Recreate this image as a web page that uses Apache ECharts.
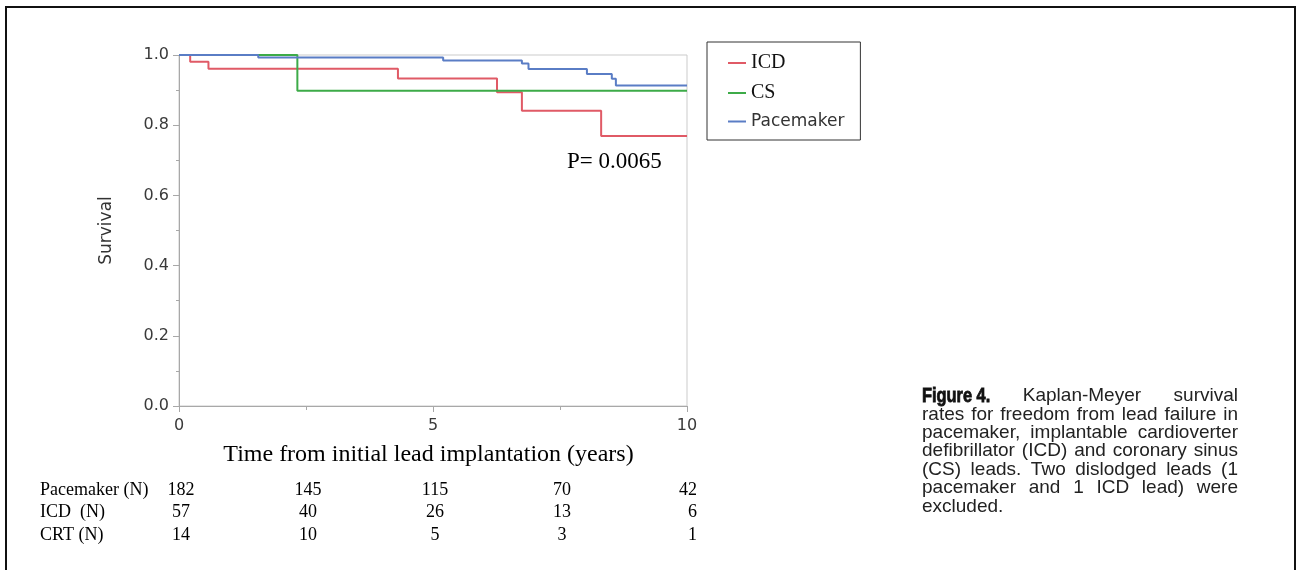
<!DOCTYPE html>
<html>
<head>
<meta charset="utf-8">
<title>Kaplan-Meyer lead survival</title>
<script src="https://cdn.jsdelivr.net/npm/echarts@6/dist/echarts.min.js"></script>
<style>
html, body { margin: 0; padding: 0; background: #fff; }
#main { width: 1297px; height: 570px; }
</style>
</head>
<body>
<div id="main"></div>
<script>
// survival curves (time in years, survival fraction)
var icdTime = [0, 0.22, 0.58, 4.31, 6.26, 6.75, 8.31, 10];
var icdSurv = [1, 0.981, 0.961, 0.933, 0.894, 0.841, 0.769, 0.769];
var csTime = [0, 2.33, 10];
var csSurv = [1, 0.898, 0.898];
var pmTime = [0, 1.56, 5.2, 6.75, 6.88, 8.03, 8.52, 8.6, 10];
var pmSurv = [1, 0.993, 0.984, 0.976, 0.96, 0.946, 0.932, 0.913, 0.913];

// numbers at risk
var riskTimes = [0, 2.5, 5, 7.5, 10];
var riskLabels = ['Pacemaker (N)', 'ICD  (N)', 'CRT (N)'];
var riskPacemaker = [182, 145, 115, 70, 42];
var riskIcd = [57, 40, 26, 13, 6];
var riskCrt = [14, 10, 5, 3, 1];

var seriesNames = ['ICD', 'CS', 'Pacemaker'];
var pValue = 'P= 0.0065';

var captionBold = 'Figure 4.';
var captionLines = [
  'Kaplan-Meyer survival',
  'rates for freedom from lead failure in',
  'pacemaker, implantable cardioverter',
  'defibrillator (ICD) and coronary sinus',
  '(CS) leads. Two dislodged leads (1',
  'pacemaker and 1 ICD lead) were',
  'excluded.'
];

var colors = {ICD: '#e05a66', CS: '#3dab48', Pacemaker: '#5a7dc5'};
var sansFont = 'DejaVu Sans';
var serifFont = 'Liberation Serif';

function toPairs(xs, ys) {
  return xs.map(function (x, i) { return [x, ys[i]]; });
}

function kmSeries(name, xs, ys) {
  return {
    name: name,
    type: 'line',
    step: 'end',
    symbol: 'none',
    color: colors[name],
    lineStyle: {width: 2, color: colors[name]},
    data: toPairs(xs, ys)
  };
}

var chart = echarts.init(document.getElementById('main'));

var axisGrey = '#a8a8a8';
var option = {
  backgroundColor: '#fff',
  animation: false,
  grid: {left: 179, top: 55, right: 610, bottom: 164, show: true, borderColor: '#cbcbcb', borderWidth: 1},
  legend: {
    orient: 'vertical',
    left: 707,
    top: 42,
    data: seriesNames,
    icon: 'rect',
    itemWidth: 18,
    itemHeight: 2,
    itemGap: 10,
    padding: [11, 16, 10, 21],
    borderColor: '#333',
    borderWidth: 1,
    backgroundColor: '#fff',
    formatter: function (name) {
      return name === 'Pacemaker' ? '{sans|' + name + '}' : '{serif|' + name + '}';
    },
    textStyle: {
      rich: {
        serif: {fontFamily: serifFont, fontSize: 20, lineHeight: 20, color: '#111'},
        sans: {fontFamily: sansFont, fontSize: 17, lineHeight: 20, color: '#333'}
      }
    }
  },
  xAxis: {
    type: 'value',
    min: 0,
    max: 10,
    interval: 5,
    name: 'Time from initial lead implantation (years)',
    nameLocation: 'middle',
    nameGap: 37,
    nameTextStyle: {fontFamily: serifFont, fontSize: 24, color: '#000', padding: [0, 9, 0, 0]},
    axisLine: {lineStyle: {color: axisGrey}},
    axisTick: {length: 6, lineStyle: {color: axisGrey}},
    minorTick: {show: true, splitNumber: 2, length: 4, lineStyle: {color: axisGrey}},
    splitLine: {show: false},
    axisLabel: {margin: 12, fontFamily: sansFont, fontSize: 16, color: '#3a3a3a'}
  },
  yAxis: {
    type: 'value',
    min: 0,
    max: 1,
    interval: 0.2,
    name: 'Survival',
    nameLocation: 'middle',
    nameGap: 64,
    nameTextStyle: {fontFamily: sansFont, fontSize: 17, color: '#333'},
    axisLine: {show: true, lineStyle: {color: axisGrey}},
    axisTick: {show: true, length: 6, lineStyle: {color: axisGrey}},
    minorTick: {show: true, splitNumber: 2, length: 3, lineStyle: {color: axisGrey}},
    splitLine: {show: false},
    axisLabel: {
      margin: 10, fontFamily: sansFont, fontSize: 16, color: '#3a3a3a',
      formatter: function (v) { return v.toFixed(1); }
    }
  },
  series: [
    kmSeries('ICD', icdTime, icdSurv),
    kmSeries('CS', csTime, csSurv),
    kmSeries('Pacemaker', pmTime, pmSurv)
  ]
};
chart.setOption(option);

// ---- extra texts: p value, table of numbers at risk, caption, frame ----
var measureCtx = document.createElement('canvas').getContext('2d');
function measure(text, font) {
  measureCtx.font = font;
  return measureCtx.measureText(text).width;
}

function textEl(x, y, text, font, align, fill) {
  return {
    type: 'text',
    x: x,
    y: y,
    silent: true,
    style: {
      text: text, font: font, fill: fill || '#000',
      align: align || 'left', textAlign: align || 'left',
      verticalAlign: 'middle', textVerticalAlign: 'middle'
    }
  };
}

var els = [];

els.push({
  type: 'rect',
  silent: true,
  shape: {x: 6, y: 7, width: 1289, height: 620},
  style: {fill: 'none', stroke: '#111', lineWidth: 2}
});

els.push(textEl(567, 162, pValue, '23px "' + serifFont + '"'));

var tableFont = '18px "' + serifFont + '"';
var riskRowsData = [riskPacemaker, riskIcd, riskCrt];
var rowY = [490, 512, 535];
riskLabels.forEach(function (label, r) {
  els.push(textEl(40, rowY[r], label, tableFont));
  riskRowsData[r].forEach(function (n, c) {
    var px = chart.convertToPixel({xAxisIndex: 0}, riskTimes[c]);
    var lastCol = c === riskTimes.length - 1;
    els.push(textEl(lastCol ? px + 10 : px + 2, rowY[r], String(n), tableFont, lastCol ? 'right' : 'center'));
  });
});

// caption, justified word by word; the bold label is squeezed like a condensed face
var capFont = '19px "Liberation Sans", Arial, sans-serif';
var capBoldFont = 'bold 21px "Liberation Sans", Arial, sans-serif';
var boldSqueeze = 0.78;
var capLeft = 922, capRight = 1238, capTop = 396, capStep = 18.4;
captionLines.forEach(function (line, i) {
  var words = line.split(' ').map(function (w) { return {text: w, font: capFont, sx: 1}; });
  if (i === 0) words.unshift({text: captionBold, font: capBoldFont, sx: boldSqueeze, heavy: true});
  var widths = words.map(function (w) { return measure(w.text, w.font) * w.sx; });
  var total = widths.reduce(function (a, b) { return a + b; }, 0);
  var isLast = i === captionLines.length - 1;
  var gap = isLast ? measure(' ', capFont) : (capRight - capLeft - total) / (words.length - 1);
  var x = capLeft;
  words.forEach(function (w, j) {
    var el = textEl(x, capTop + i * capStep, w.text, w.font, 'left', '#222');
    el.scaleX = w.sx;
    if (w.heavy) {
      el.style.fill = '#111';
      el.style.stroke = '#111';
      el.style.lineWidth = 0.8;
    }
    els.push(el);
    x += widths[j] + gap;
  });
});

chart.setOption({graphic: {elements: els}});
</script>
</body>
</html>
